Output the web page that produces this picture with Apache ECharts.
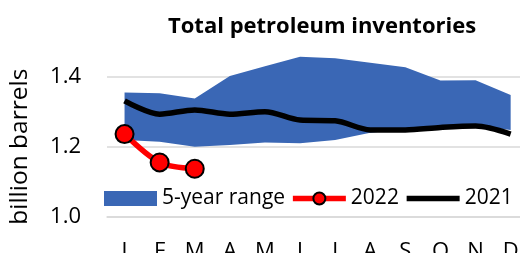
<!DOCTYPE html>
<html>
<head>
<meta charset="utf-8">
<script src="https://cdn.jsdelivr.net/npm/echarts@6/dist/echarts.min.js"></script>
<style>
  html, body { margin: 0; padding: 0; background: #fff; }
  #chart { width: 520px; height: 253px; }
</style>
</head>
<body>
<div id="chart"></div>
<script>
// data (billion barrels)
var months = ['J', 'F', 'M', 'A', 'M', 'J', 'J', 'A', 'S', 'O', 'N', 'D'];
var rangeLow = [1.219, 1.214, 1.200, 1.205, 1.212, 1.210, 1.219, 1.240, 1.250, 1.257, 1.260, 1.248];
var rangeHigh = [1.355, 1.353, 1.338, 1.402, 1.430, 1.457, 1.453, 1.440, 1.427, 1.389, 1.390, 1.348];
var y2022 = [1.236, 1.155, 1.137];
var y2021 = [1.331, 1.293, 1.305, 1.293, 1.300, 1.276, 1.274, 1.248, 1.248, 1.255, 1.259, 1.236];
var yTicks = [1.0, 1.2, 1.4];

(function () {
  var myChart = echarts.init(document.getElementById('chart'));
  var font = '"Open Sans", sans-serif';

  // band height on top of the lower edge
  var rangeSpan = rangeHigh.map(function (v, i) {
    return +(v - rangeLow[i]).toFixed(3);
  });

  var option = {
    animation: false,
    textStyle: { fontFamily: font },
    title: {
      text: 'Total petroleum inventories',
      left: 163,
      top: 11,
      textStyle: { fontFamily: font, fontSize: 22, fontWeight: 'bold', color: '#000' }
    },
    legend: {
      left: 99,
      top: 183,
      width: 600,
      itemWidth: 53,
      itemHeight: 15,
      itemGap: 5,
      lineStyle: { width: 5.5 },
      textStyle: { fontFamily: font, fontSize: 21, color: '#000' },
      data: [
        { name: '5-year range', icon: 'rect' },
        { name: '2022' },
        // plain line in the legend, no dot
        { name: '2021', itemStyle: { color: 'rgba(0,0,0,0)', borderWidth: 0, opacity: 0 } }
      ]
    },
    grid: {
      left: 107,
      width: 421.2,
      top: 76.7,
      bottom: 36.3,
      outerBoundsMode: 'none'
    },
    xAxis: {
      type: 'category',
      data: months,
      axisLine: { lineStyle: { color: '#d9d9d9', width: 1.5 } },
      axisTick: { length: 7, lineStyle: { color: '#d9d9d9', width: 1.5 } },
      axisLabel: { color: '#000', fontSize: 22, margin: 24, fontFamily: font }
    },
    yAxis: {
      type: 'value',
      min: yTicks[0],
      max: yTicks[yTicks.length - 1],
      interval: 0.2,
      name: 'billion barrels',
      nameLocation: 'middle',
      nameRotate: 90,
      nameGap: 74,
      nameTextStyle: { fontFamily: font, fontSize: 24.5, color: '#000' },
      axisLine: { show: false },
      axisTick: { show: false },
      axisLabel: {
        color: '#000',
        fontSize: 22,
        margin: 26,
        fontFamily: font,
        formatter: function (v) { return v.toFixed(1); }
      },
      splitLine: { lineStyle: { color: '#d9d9d9', width: 1.5 } }
    },
    series: [
      {
        name: 'low',
        type: 'line',
        stack: 'band',
        data: rangeLow,
        symbol: 'none',
        lineStyle: { width: 0 },
        areaStyle: { opacity: 0 },
        clip: false,
        silent: true
      },
      {
        name: '5-year range',
        type: 'line',
        stack: 'band',
        data: rangeSpan,
        symbol: 'none',
        itemStyle: { color: '#3a67b5' },
        lineStyle: { width: 0 },
        areaStyle: { color: '#3a67b5', opacity: 1 },
        clip: false
      },
      {
        name: '2021',
        type: 'line',
        data: y2021,
        symbol: 'none',
        smooth: 0.3,
        itemStyle: { color: '#000' },
        lineStyle: { color: '#000', width: 5.5 },
        clip: false,
        z: 3
      },
      {
        name: '2022',
        type: 'line',
        data: y2022,
        symbol: 'circle',
        symbolSize: 18,
        smooth: 0.3,
        itemStyle: { color: '#ff0000', borderColor: '#000', borderWidth: 2 },
        lineStyle: { color: '#ff0000', width: 5.5 },
        clip: false,
        z: 4
      }
    ]
  };

  myChart.setOption(option);
  window.addEventListener('resize', function () {
    myChart.resize();
  });
})();
</script>
</body>
</html>
